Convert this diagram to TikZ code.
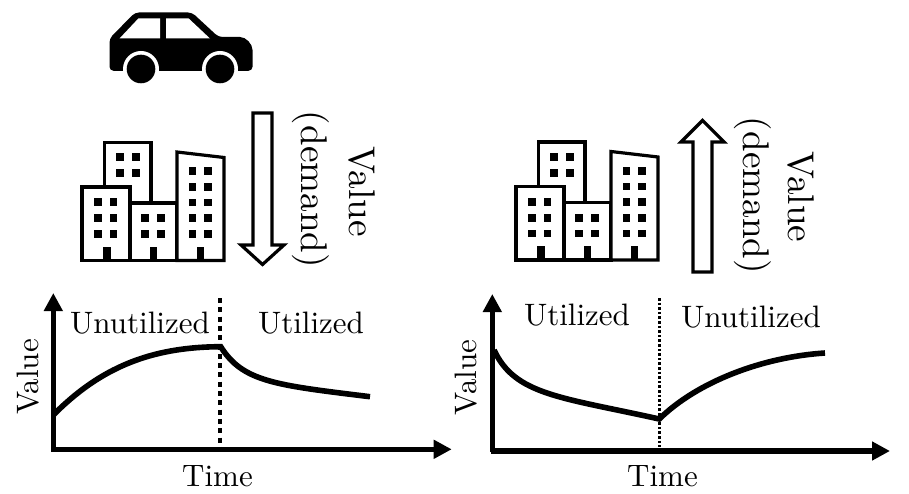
\documentclass[tikz,border=0pt]{standalone}
\usetikzlibrary{arrows.meta, calc}
\tikzset{
  x=1pt, y=-1pt,
  axis/.style={-{Triangle[length=18pt, width=18pt]}, line width=5.2pt},
  curve/.style={line width=5.6pt},
  blockarrow/.style={draw, line width=3.2pt, fill=white, miter limit=10},
  wall/.style={draw, line width=3.2pt, fill=white},
  lbl/.style={scale=3.1, inner sep=0pt},
  biglbl/.style={scale=3.72, inner sep=0pt},
  city/.pic={
    \draw[wall] (104.5,187) -- (104.5,142.5) -- (151,142.5) -- (151,203);
    \draw[wall] (82,187) rectangle (130,260.5);
    \draw[wall] (130,203) rectangle (177,260.5);
    \draw[wall] (177,152) -- (224,157.5) -- (224,260.5) -- (177,260.5) -- cycle;
    \foreach \wx/\wy in {98/202.3, 113.5/202.3, 98/218.3, 113.5/218.3, 98/234, 113.5/234,
                         120/157.3, 135.7/157.3, 120/173.3, 135.7/173.3,
                         145/218.3, 160.7/218.3, 145/234, 160.7/234,
                         192.3/171.3, 208/171.3, 192.3/187, 208/187, 192.3/202.7, 208/202.7,
                         192.3/218.3, 208/218.3, 192.3/234, 208/234}
      \fill (\wx,\wy) ++(-3.8,-3.8) rectangle ++(7.6,7.6);
    \foreach \dx in {106.7, 153.3, 200.3}
      \fill (\dx,246.5) ++(-3.8,0) rectangle ++(7.6,14);
  },
}

\begin{document}
\begin{tikzpicture}
\useasboundingbox (0,0) rectangle (909,494);

% car
\fill[rounded corners=4pt] (109.5,38.5) -- (135,12.5) -- (192,12.5) -- (218.5,37) -- (236,37)
  .. controls (246,37) and (252.5,44) .. (252.5,54) -- (252.5,70.8) -- (109.5,70.8) -- cycle;
\fill[white] (119.5,38.5) -- (138.5,18.3) -- (160,18.3) -- (160,38.5) -- cycle;
\fill[white] (166,18.3) -- (188.5,18.3) -- (210,38.5) -- (166,38.5) -- cycle;
\fill[white] (141,69) circle (18);
\fill[white] (220,69) circle (18);
\fill (141,69) circle (14.3);
\fill (220,69) circle (14.3);

% buildings
\pic at (0,0) {city};
\pic at (434,-0.5) {city};

% block arrows
\draw[blockarrow] (253,113) -- (272,113) -- (272,245) -- (284,245) -- (262.5,264.5)
  -- (241,245) -- (253,245) -- cycle;
\draw[blockarrow] (693,272) -- (712,272) -- (712,142) -- (724,142) -- (702.5,120.5)
  -- (681,142) -- (693,142) -- cycle;

% rotated captions
\node[biglbl, rotate=-90, anchor=base] (leftdemand) at (301.5,189.5) {(demand)};
\node[biglbl, rotate=-90, anchor=base] (leftvalue) at (349,191.5) {Value};
\node[biglbl, rotate=-90, anchor=base] (rightdemand) at (743,195.5) {(demand)};
\node[biglbl, rotate=-90, anchor=base] (rightvalue) at (788.5,197) {Value};

% left plot
\coordinate (ltop) at (53.3,293);
\coordinate (lbottom) at (53.3,451.7);
\coordinate (lcorner) at (51.5,449.3);
\coordinate (lend) at (451.7,449.3);
\draw[axis] (lbottom) -- (ltop);
\draw[axis] (lcorner) -- (lend);
\coordinate (ldivtop) at (220,298);
\coordinate (ldivbot) at (220,447);
\draw[line width=4pt, dash pattern=on 5pt off 4.3pt] (ldivtop) -- (ldivbot);
\coordinate (lmid) at (220.7,346.7);
\draw[curve] (53.3,415) .. controls (100,368) and (150,347) .. (lmid)
  .. controls (243,382) and (275,385) .. (370,396.7);
\node[lbl, anchor=base] (lunused) at (140,333) {Unutilized};
\node[lbl, anchor=base] (lused) at (311,333) {Utilized};
\node[lbl, anchor=base] (ltime) at (217.5,486.7) {Time};
\node[lbl, anchor=base, rotate=90] (lvalue) at (38,377) {Value};

% right plot
\coordinate (rtop) at (492.3,294);
\coordinate (rbottom) at (492.3,452);
\coordinate (rcorner) at (490.5,451);
\coordinate (rend) at (890,451);
\draw[axis] (rbottom) -- (rtop);
\draw[axis] (rcorner) -- (rend);
\coordinate (rdivtop) at (659.3,298);
\coordinate (rdivbot) at (659.3,447);
\draw[line width=2.6pt, dash pattern=on 2.6pt off 2pt] (rdivtop) -- (rdivbot);
\coordinate (rmid) at (659.3,419);
\draw[curve] (494,350) .. controls (515,395) and (560,397) .. (rmid)
  .. controls (697,382) and (762,357) .. (825,353);
\node[lbl, anchor=base] (rused) at (577,325) {Utilized};
\node[lbl, anchor=base] (runused) at (751,327.7) {Unutilized};
\node[lbl, anchor=base] (rtime) at (662.5,486.7) {Time};
\node[lbl, anchor=base, rotate=90] (rvalue) at (476.7,377.5) {Value};
\end{tikzpicture}
\end{document}
